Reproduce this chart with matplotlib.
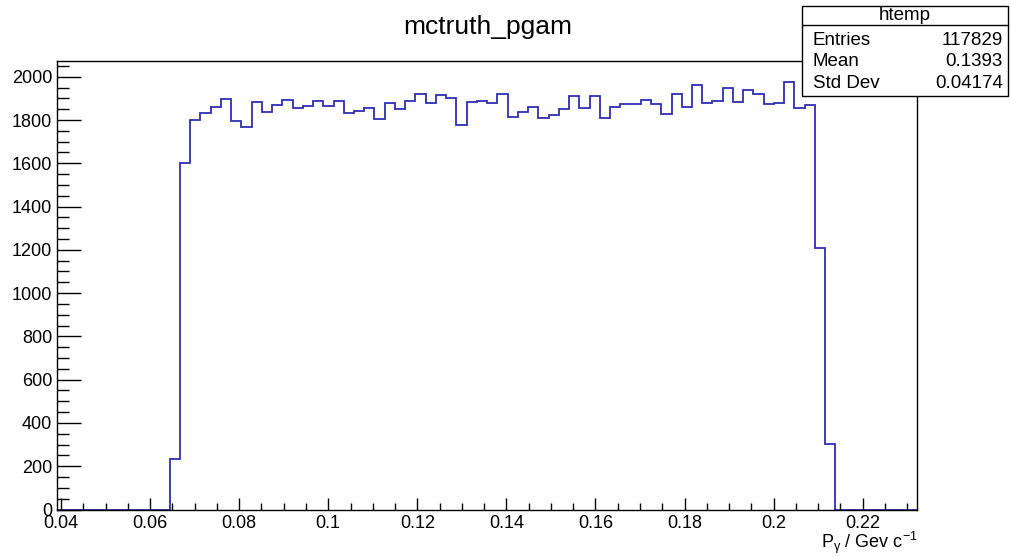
import matplotlib
matplotlib.use("Agg")
import matplotlib.pyplot as plt
from matplotlib.patches import Rectangle
from matplotlib.ticker import MultipleLocator
import numpy as np

plt.rcParams['font.family'] = ['Liberation Sans', 'DejaVu Sans']
plt.rcParams['mathtext.default'] = 'regular'

# histogram definition (htemp from TTree::Draw)
x_min, x_max, n_bins = 0.0391, 0.23226, 84
first_bin = 11
counts_nonzero = [
    234, 1603, 1800, 1834, 1861, 1895, 1795, 1769, 1883, 1835,
    1870, 1893, 1854, 1863, 1889, 1863, 1886, 1832, 1843, 1857,
    1806, 1878, 1850, 1888, 1921, 1880, 1914, 1900, 1775, 1883,
    1889, 1880, 1918, 1812, 1835, 1861, 1808, 1821, 1850, 1911,
    1854, 1911, 1809, 1861, 1875, 1876, 1891, 1875, 1829, 1920,
    1860, 1964, 1880, 1888, 1949, 1884, 1938, 1920, 1875, 1878,
    1974, 1854, 1868, 1209, 305,
]
stats_names = ["Entries", "Mean", "Std Dev"]
stats_values = ["117829", "0.1393", "0.04174"]

counts = np.zeros(n_bins)
counts[first_bin:first_bin + len(counts_nonzero)] = counts_nonzero
edges = np.linspace(x_min, x_max, n_bins + 1)

W, H = 1011, 557
fig = plt.figure(figsize=(W / 100, H / 100), dpi=100)
ax = fig.add_axes([57 / W, 1 - 509.5 / H, (917.3 - 57) / W, (509.5 - 61) / H])

ax.stairs(counts, edges, color='#2e2eb4', linewidth=1.3)
ax.set_xlim(x_min, x_max)
ax.set_ylim(0, 1.05 * max(counts))

ax.xaxis.set_major_locator(MultipleLocator(0.02))
ax.xaxis.set_minor_locator(MultipleLocator(0.005))
ax.yaxis.set_major_locator(MultipleLocator(200))
ax.yaxis.set_minor_locator(MultipleLocator(50))
ax.xaxis.set_major_formatter(plt.FuncFormatter(lambda v, p: f"{v:g}"))
ax.yaxis.set_major_formatter(plt.FuncFormatter(lambda v, p: f"{v:g}"))

ax.tick_params(axis='both', which='both', direction='in', top=False, right=False,
               labelsize=13, width=1.0, color='black')
ax.tick_params(axis='x', which='major', length=9, pad=4)
ax.tick_params(axis='x', which='minor', length=4.8)
ax.tick_params(axis='y', which='major', length=17, pad=3.5)
ax.tick_params(axis='y', which='minor', length=8.6)
for s in ax.spines.values():
    s.set_linewidth(1.0)

fig.text(917.5 / W, 1 - 547.5 / H, 'P$_{γ}$ / Gev c$^{-1}$', ha='right', va='baseline',
         fontsize=13)

fig.text(487.7 / W, 1 - 34 / H, "mctruth_pgam", ha='center', va='baseline', fontsize=19)

# stats box
bx0, bx1, by0, by1, bsep = 802, 1008, 6, 96, 25
fig.add_artist(Rectangle((bx0 / W, 1 - by1 / H), (bx1 - bx0) / W, (by1 - by0) / H,
                         transform=fig.transFigure, facecolor='white',
                         edgecolor='black', linewidth=1.0, zorder=5))
fig.add_artist(plt.Line2D([bx0 / W, bx1 / W], [1 - bsep / H, 1 - bsep / H],
                          transform=fig.transFigure, color='black', linewidth=1.0, zorder=6))
fig.text((bx0 + bx1) / 2 / W, 1 - 15.5 / H, "htemp", ha='center', va='center',
         fontsize=13.5, zorder=7)
row_y = [40.5, 62, 83.5]
for name, val, yy in zip(stats_names, stats_values, row_y):
    fig.text(813 / W, 1 - yy / H, name, ha='left', va='center', fontsize=13.5, zorder=7)
    fig.text(1003 / W, 1 - yy / H, val, ha='right', va='center', fontsize=13.5, zorder=7)

fig.savefig("out.png", dpi=100)
